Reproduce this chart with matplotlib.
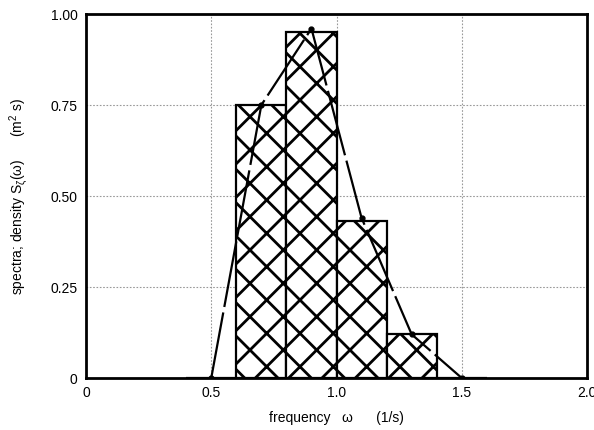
import matplotlib
matplotlib.use("Agg")
import matplotlib.pyplot as plt

plt.rcParams['font.family'] = ['Liberation Sans', 'DejaVu Sans']
plt.rcParams['hatch.linewidth'] = 2.0
plt.rcParams['mathtext.fontset'] = 'custom'
plt.rcParams['mathtext.rm'] = 'Liberation Sans'
plt.rcParams['mathtext.it'] = 'Liberation Sans'

bar_left = [0.4, 0.6, 0.8, 1.0, 1.2, 1.4]
bar_heights = [0.0, 0.75, 0.95, 0.43, 0.12, 0.0]
bar_width = 0.2

line_x = [0.5, 0.7, 0.9, 1.1, 1.3, 1.5]
line_y = [0.0, 0.75, 0.96, 0.44, 0.12, 0.0]

xticks = [0, 0.5, 1.0, 1.5, 2.0]
xticklabels = ['0', '0.5', '1.0', '1.5', '2.0']
yticks = [0, 0.25, 0.5, 0.75, 1.0]
yticklabels = ['0', '0.25', '0.50', '0.75', '1.00']

fig = plt.figure(figsize=(5.94, 4.30), dpi=100)
ax = fig.add_axes([0.1448, 0.1209, 0.8434, 0.8465])

ax.bar(bar_left, bar_heights, width=bar_width, align='edge', facecolor='white',
       edgecolor='black', linewidth=1.6, hatch='x', zorder=2)
ax.plot(line_x, line_y, color='black', linewidth=1.6, linestyle=(0, (30, 2.5)),
        marker='o', markersize=3.5, zorder=3)

ax.set_xlim(0, 2.0)
ax.set_ylim(0, 1.0)
ax.set_xticks(xticks)
ax.set_xticklabels(xticklabels)
ax.set_yticks(yticks)
ax.set_yticklabels(yticklabels)
ax.tick_params(axis='both', length=0, labelsize=10, pad=6)
ax.grid(True, color='#999999', linestyle=(0, (1.5, 1.5)), linewidth=0.8, zorder=0)
ax.set_axisbelow(True)
for s in ax.spines.values():
    s.set_linewidth(2.0)

ax.set_xlabel('frequency   ω      (1/s)', fontsize=10, labelpad=8)
ax.set_ylabel('spectra; density S$_\\zeta$(ω)      (m$^2$ s)', fontsize=10, labelpad=14)

fig.savefig('out.png', dpi=100)
